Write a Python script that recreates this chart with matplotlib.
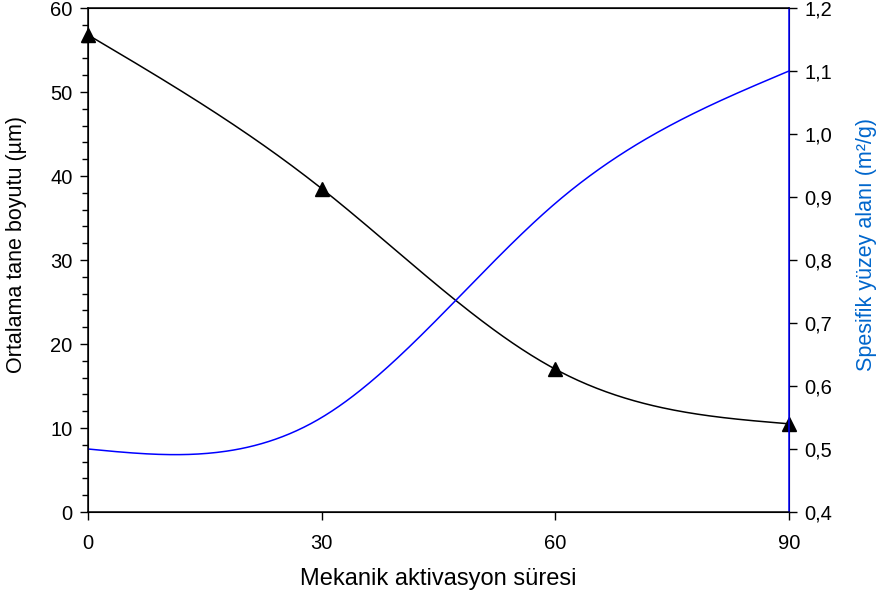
import matplotlib.pyplot as plt
import numpy as np
from matplotlib.ticker import FuncFormatter, MultipleLocator

plt.rcParams['font.family'] = ['Liberation Sans', 'DejaVu Sans']

# measured values
sure = [0, 30, 60, 90]
tane_boyutu = [56.8, 38.5, 17.0, 10.5]
yuzey_alani = [0.50, 0.55, 0.89, 1.10]


# natural cubic spline through the measured points (for the smooth curves)
def spline(x, y, n=300):
    x = np.asarray(x, float)
    y = np.asarray(y, float)
    h = np.diff(x)
    m = len(x)
    A = np.zeros((m, m))
    b = np.zeros(m)
    A[0, 0] = A[-1, -1] = 1
    for i in range(1, m - 1):
        A[i, i - 1] = h[i - 1]
        A[i, i] = 2 * (h[i - 1] + h[i])
        A[i, i + 1] = h[i]
        b[i] = 6 * ((y[i + 1] - y[i]) / h[i] - (y[i] - y[i - 1]) / h[i - 1])
    M = np.linalg.solve(A, b)
    xs = np.linspace(x[0], x[-1], n)
    k = np.clip(np.searchsorted(x, xs) - 1, 0, m - 2)
    t0 = x[k + 1] - xs
    t1 = xs - x[k]
    hk = h[k]
    ys = (M[k] * t0 ** 3 / (6 * hk) + M[k + 1] * t1 ** 3 / (6 * hk)
          + (y[k] / hk - M[k] * hk / 6) * t0 + (y[k + 1] / hk - M[k + 1] * hk / 6) * t1)
    return xs, ys


fig = plt.figure(figsize=(8.81, 6.03), dpi=100)
ax = fig.add_axes([88 / 881, 1 - 512 / 603, 701 / 881, 504 / 603])
ax2 = ax.twinx()

xs, ys = spline(sure, tane_boyutu)
ax.plot(xs, ys, color="black", lw=1.1)
ax.plot(sure, tane_boyutu, linestyle="none", marker="^", color="black", markersize=10, clip_on=False, zorder=5)

xs2, ys2 = spline(sure, yuzey_alani)
ax2.plot(xs2, ys2, color="#0000ff", lw=1.1)

ax.set_xlim(0, 90)
ax.set_ylim(0, 60)
ax2.set_ylim(0.4, 1.2)
ax.set_xticks(sure)
ax.yaxis.set_major_locator(MultipleLocator(10))
ax.yaxis.set_minor_locator(MultipleLocator(2))
ax2.yaxis.set_major_locator(MultipleLocator(0.1))
ax2.yaxis.set_major_formatter(FuncFormatter(lambda v, p: "{:.1f}".format(v).replace(".", ",")))

ax.tick_params(axis="both", which="major", labelsize=14.5, length=6, width=1, direction="out", pad=5)
ax.tick_params(axis="y", which="minor", length=4, width=1)
ax.tick_params(axis="x", pad=10)
ax2.tick_params(axis="y", labelsize=14.5, length=6, width=1, direction="out", pad=5)

for s in ax2.spines.values():
    s.set_linewidth(1.1)
ax2.spines["right"].set_color("#0000ff")

ax.set_xlabel("Mekanik aktivasyon süresi", fontsize=17, labelpad=11)
ax.set_ylabel("Ortalama tane boyutu (µm)", fontsize=15.5)
ax2.set_ylabel("Spesifik yüzey alanı (m²/g)", fontsize=15.5, color="#0066cc")
ax.yaxis.set_label_coords(-0.087, 0.53)
ax2.yaxis.set_label_coords(1.096, 0.53)

fig.savefig("out.png", dpi=100)
